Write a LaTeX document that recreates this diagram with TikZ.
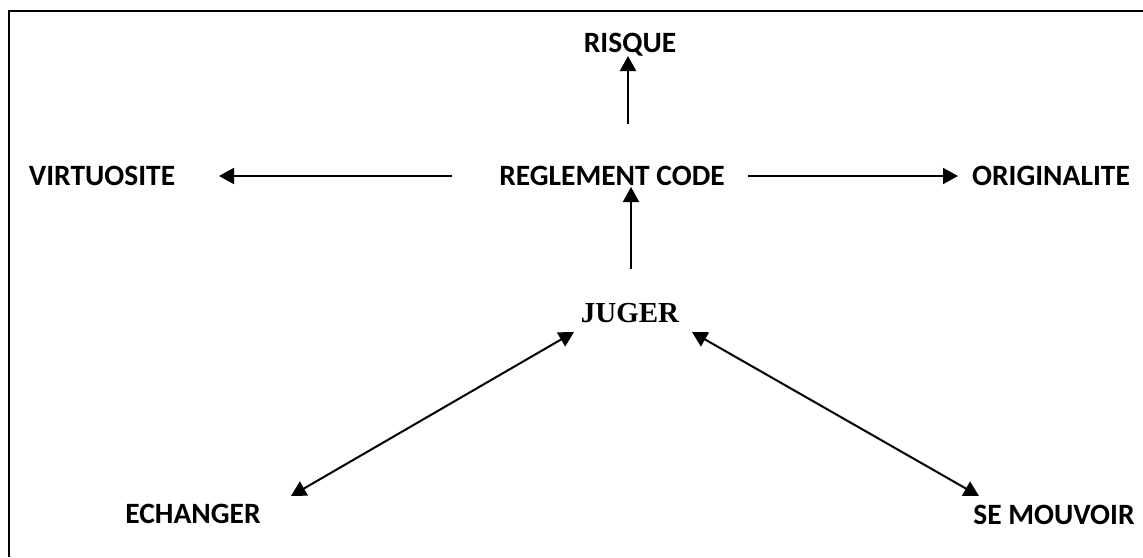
\documentclass[tikz,border=0pt]{standalone}
\usepackage{fontspec}
\setmainfont{Carlito}
\newfontfamily\timesf{Liberation Serif}
\usetikzlibrary{arrows.meta}
\begin{document}
\begin{tikzpicture}[x=1pt,y=-1pt,
  lbl/.style={inner sep=0pt,anchor=base,font=\fontsize{29.5}{31}\selectfont\bfseries},
  jlbl/.style={inner sep=0pt,anchor=base,font=\fontsize{29}{31}\selectfont\timesf\bfseries},
  arr/.style={line width=2pt,-{Triangle[length=15pt,width=16pt]}},
  darr/.style={line width=2pt,{Triangle[length=15pt,width=16pt]}-{Triangle[length=15pt,width=16pt]}},
  frame/.style={line width=2.4pt}]
\useasboundingbox (0,0) rectangle (1143,557);
\draw[frame] (9,557) -- (9,11) -- (1143,11);
\node[lbl] (risque) at (630,52) {RISQUE};
\node[lbl] (rc) at (612,185) {REGLEMENT CODE};
\node[lbl] (virt) at (102,185) {VIRTUOSITE};
\node[lbl] (orig) at (1051,185) {ORIGINALITE};
\node[jlbl] (jug) at (630,322) {JUGER};
\node[lbl] (ech) at (193,523) {ECHANGER};
\node[lbl] (semv) at (1054,524) {SE MOUVOIR};
% connector end points
\coordinate (r1) at (628,124); \coordinate (r2) at (628,56);
\coordinate (v1) at (452,176); \coordinate (v2) at (219,176);
\coordinate (o1) at (748,176); \coordinate (o2) at (958,176);
\coordinate (j1) at (631,269); \coordinate (j2) at (631,187);
\coordinate (e1) at (291,496); \coordinate (e2) at (574,332);
\coordinate (s1) at (692,332); \coordinate (s2) at (979,496);
\draw[arr] (r1) -- (r2);
\draw[arr] (v1) -- (v2);
\draw[arr] (o1) -- (o2);
\draw[arr] (j1) -- (j2);
\draw[darr] (e1) -- (e2);
\draw[darr] (s1) -- (s2);
\end{tikzpicture}
\end{document}
